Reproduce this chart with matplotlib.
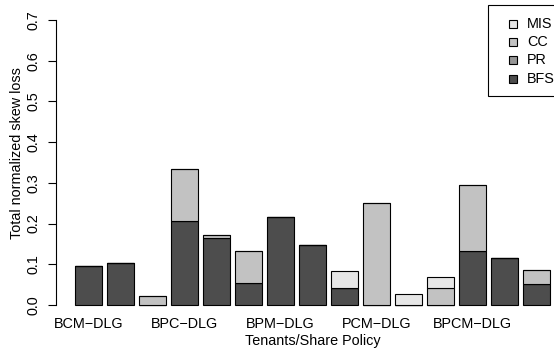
import numpy as np
import matplotlib.pyplot as plt
from matplotlib.patches import Rectangle

plt.rcParams['font.family'] = ['Liberation Sans', 'DejaVu Sans']

# stacked components per bar (bottom to top: BFS, PR, CC, MIS)
bfs = [0.097, 0.102, 0.0, 0.207, 0.165, 0.055, 0.217, 0.148, 0.042, 0.0, 0.0, 0.0, 0.132, 0.115, 0.051]
pr = [0.0, 0.002, 0.0, 0.0, 0.0, 0.0, 0.0, 0.0, 0.0, 0.0, 0.0, 0.0, 0.0, 0.0, 0.0]
cc = [0.0, 0.0, 0.023, 0.127, 0.006, 0.077, 0.0, 0.0, 0.0, 0.250, 0.0, 0.042, 0.163, 0.0, 0.034]
mis = [0.0, 0.0, 0.0, 0.0, 0.0, 0.0, 0.0, 0.0, 0.042, 0.0, 0.028, 0.028, 0.0, 0.0, 0.0]

group_labels = ['BCM\u2212DLG', 'BPC\u2212DLG', 'BPM\u2212DLG', 'PCM\u2212DLG', 'BPCM\u2212DLG']
label_bars = [0, 3, 6, 9, 12]

series = [('BFS', bfs, '#4D4D4D'), ('PR', pr, '#969696'),
          ('CC', cc, '#C2C2C2'), ('MIS', mis, '#E6E6E6')]

fs = 10.4
W, H = 554, 351
fig = plt.figure(figsize=(W / 100, H / 100), dpi=100)
# plot region in pixels (R-style), it extends past the right edge
left, right, top, bottom = 56, 569, 8.6, 316.4
ax = fig.add_axes([left / W, 1 - bottom / H, (right - left) / W, (bottom - top) / H])

n = len(bfs)
x = 0.2 + np.arange(n) * 1.2 + 0.5
base = np.zeros(n)
for name, vals, col in series:
    vals = np.array(vals)
    ax.bar(x, vals, width=1.0, bottom=base, color=col, edgecolor='black', linewidth=0.8)
    base += vals

ax.set_xlim(-0.512, 18.712)
ax.set_ylim(-0.028, 0.728)

for s in ['top', 'right', 'bottom']:
    ax.spines[s].set_visible(False)
ax.spines['left'].set_bounds(0, 0.7)
ax.spines['left'].set_linewidth(0.8)
ax.set_yticks(np.arange(0, 0.71, 0.1))
ax.set_yticklabels(['%.1f' % v for v in np.arange(0, 0.71, 0.1)], rotation=90, va='center', fontsize=fs)
ax.tick_params(axis='y', length=6, width=0.8, pad=5)
ax.set_xticks(x[label_bars])
ax.set_xticklabels(group_labels, fontsize=fs)
ax.tick_params(axis='x', length=0, pad=0.5)

ax.set_ylabel('Total normalized skew loss', fontsize=fs)
ax.yaxis.set_label_coords((24 - left) / (right - left), 0.53)
ax.set_xlabel('Tenants/Share Policy', fontsize=fs, labelpad=2)

# legend box drawn by hand, R-style, cut by the right edge
def px(xp, yp):
    return xp / W, 1 - yp / H

fig.add_artist(Rectangle(px(488, 96), 90 / W, 91 / H, transform=fig.transFigure,
                         facecolor='white', edgecolor='black', linewidth=0.8))
row_y = [24, 42.2, 60.4, 78.6]
for (name, vals, col), ry in zip(series[::-1], row_y):
    fig.add_artist(Rectangle(px(509, ry + 4), 8 / W, 8 / H, transform=fig.transFigure,
                             facecolor=col, edgecolor='black', linewidth=0.8))
    fig.text(527 / W, 1 - ry / H, name, fontsize=fs, va='center', ha='left')

fig.savefig('out.png', dpi=100)
